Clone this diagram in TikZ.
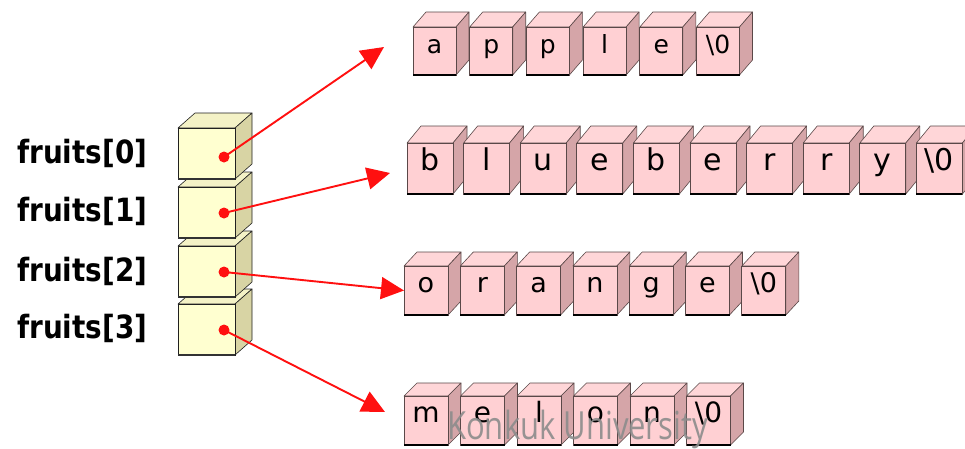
\documentclass[tikz,border=0pt]{standalone}
\usepackage{fontspec}
\setmainfont{DejaVu Sans}
\newfontfamily\wmfont{Open Sans}
\newfontfamily\lblfont{DejaVu Sans}
\usetikzlibrary{arrows.meta}
\definecolor{pkfront}{HTML}{FFD0D3}
\definecolor{pktop}{HTML}{FFD6D8}
\definecolor{pkside}{HTML}{D5A5A8}
\definecolor{pkline}{HTML}{5A4848}
\definecolor{crfront}{HTML}{FFFFD0}
\definecolor{crtop}{HTML}{F4F2C6}
\definecolor{crside}{HTML}{D8D4A4}
\definecolor{crline}{HTML}{202020}
\definecolor{ptr}{HTML}{FF1010}
\tikzset{
  pktop/.style={fill=pktop,draw=pkline,line width=0.6pt,line join=round},
  pkside/.style={fill=pkside,draw=pkline,line width=0.6pt,line join=round},
  pkfront/.style={fill=pkfront,draw=pkline,line width=0.7pt,inner sep=0pt,outer sep=0pt,
                  text height=0.55em,text depth=0.13em},
  pkshadow/.style={draw=black,line width=2.6pt},
  crtop/.style={fill=crtop,draw=crline,line width=0.6pt,line join=round},
  crside/.style={fill=crside,draw=crline,line width=0.6pt,line join=round},
  crfront/.style={fill=crfront,draw=crline,line width=0.7pt,inner sep=0pt,outer sep=0pt},
  crshadow/.style={draw=black!80,line width=1.6pt},
  ptrline/.style={draw=ptr,line width=1.9pt,-{Triangle[length=23pt,width=22pt]}},
  ptrdot/.style={fill=ptr},
  lbl/.style={anchor=west,inner sep=0pt,font=\lblfont\bfseries\fontsize{32}{32}\selectfont},
  wm/.style={anchor=base west,inner sep=0pt,text=black!45,opacity=0.9,font=\wmfont\fontsize{31}{31}\selectfont}
}
% #1 name, #2 x (front left), #3 y (front top), #4 text, #5 family, #6 font size
\newcommand\cube[6]{%
  \filldraw[#5top] (#2,#3) -- ++(\cdx,-\cdy) -- ++(\cw,0) -- ++(-\cdx,\cdy) -- cycle;
  \filldraw[#5side] (#2+\cw,#3) -- ++(\cdx,-\cdy) -- ++(0,\ch) -- ++(-\cdx,\cdy) -- cycle;
  \node[#5front,minimum width=\cw pt,minimum height=\ch pt,anchor=north west,
        font=\fontsize{#6}{#6}\selectfont] (#1) at (#2,#3) {#4};
  \draw[#5shadow] (#1.south west) -- (#1.south east);
}
\begin{document}
\begin{tikzpicture}[x=1pt,y=-1pt]
\useasboundingbox (0,0) rectangle (965,448);

% ---- character rows ----
% apple
\def\cw{43}\def\ch{48}\def\cdx{13}\def\cdy{15}
\foreach \c [count=\i from 0] in {a,p,p,l,e,{\textbackslash0}}{
  \pgfmathsetmacro\xx{413+\i*56.7}
  \cube{ap\i}{\xx}{27}{\c}{pk}{25}
}
% blueberry
\def\cw{46}\def\ch{51}\def\cdx{14}\def\cdy{17}
\foreach \c [count=\i from 0] in {b,l,u,e,b,e,r,r,y,{\textbackslash0}}{
  \pgfmathsetmacro\xx{407+\i*56.6}
  \cube{bl\i}{\xx}{143}{\c}{pk}{30}
}
% orange
\def\cw{44}\def\ch{49}\def\cdx{13}\def\cdy{14}
\foreach \c [count=\i from 0] in {o,r,a,n,g,e,{\textbackslash0}}{
  \pgfmathsetmacro\xx{404+\i*56.3}
  \cube{or\i}{\xx}{266}{\c}{pk}{27}
}
% melon
\def\cw{44}\def\ch{49}\def\cdx{13}\def\cdy{13}
\foreach \c [count=\i from 0] in {m,e,l,o,n,{\textbackslash0}}{
  \pgfmathsetmacro\xx{404+\i*56.5}
  \cube{me\i}{\xx}{396}{\c}{pk}{28}
}

% ---- pointer array (drawn bottom to top) ----
\def\cw{57}\def\ch{51}\def\cdx{17}\def\cdy{15}
\cube{f3}{178}{304}{}{cr}{10}
\cube{f2}{178}{246}{}{cr}{10}
\cube{f1}{178}{187}{}{cr}{10}
\cube{f0}{178}{128}{}{cr}{10}

% labels
\node[lbl] (l0) at (17,153) {\scalebox{0.87}[1]{fruits[0]}};
\node[lbl] (l1) at (17,211) {\scalebox{0.87}[1]{fruits[1]}};
\node[lbl] (l2) at (17,271) {\scalebox{0.87}[1]{fruits[2]}};
\node[lbl] (l3) at (17,328) {\scalebox{0.87}[1]{fruits[3]}};

% ---- pointers ----
\coordinate (d0) at (224,157);
\coordinate (d1) at (224,213);
\coordinate (d2) at (224,272);
\coordinate (d3) at (224,330);
\coordinate (t0) at (384,47);
\coordinate (t1) at (390,173);
\coordinate (t3) at (385,412);
\draw[ptrline] (d0) -- (t0);
\draw[ptrline] (d1) -- (t1);
\draw[ptrline] (d2) -- (or0.west);
\draw[ptrline] (d3) -- (t3);
\foreach \d in {d0,d1,d2,d3}{\fill[ptrdot] (\d) circle (5.5);}

% watermark
\node[wm] (wm) at (447,439) {\scalebox{1}[1.25]{Konkuk University}};
\end{tikzpicture}
\end{document}
